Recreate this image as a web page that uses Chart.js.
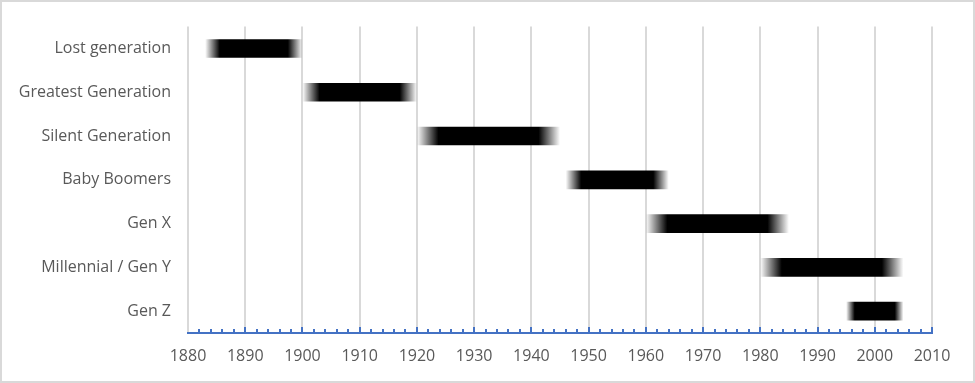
<!DOCTYPE html>
<html>
<head>
<meta charset="utf-8">
<script src="https://cdn.jsdelivr.net/npm/chart.js@4.4.1/dist/chart.umd.min.js"></script>
<style>
  html, body { margin: 0; padding: 0; background: #fff; }
  #wrap { width: 975px; height: 383px; position: relative; }
</style>
</head>
<body>
<div id="wrap"><canvas id="chart"></canvas></div>
<script>
const generations = ['Lost generation', 'Greatest Generation', 'Silent Generation', 'Baby Boomers', 'Gen X', 'Millennial / Gen Y', 'Gen Z'];
const startYears = [1883, 1900, 1920, 1946, 1960, 1980, 1995];
const endYears = [1900, 1920, 1945, 1964, 1985, 2005, 2005];
const yearMin = 1880;
const yearMax = 2010;
const majorStep = 10;
const minorStep = 2;

const textColor = '#595959';
const gridColor = '#d9d9d9';
const axisColor = '#4472c4';
const fontFamily = "'Open Sans', 'Noto Sans', sans-serif";

// gradient that fades the bar in and out at both ends
const fadeFill = (ctx) => {
    const chart = ctx.chart;
    if (!chart.chartArea || ctx.dataIndex === undefined) return '#000';
    const x = chart.scales.x;
    const x0 = x.getPixelForValue(startYears[ctx.dataIndex]);
    const x1 = x.getPixelForValue(endYears[ctx.dataIndex]);
    const g = chart.ctx.createLinearGradient(x0, 0, x1, 0);
    g.addColorStop(0, 'rgba(0,0,0,0)');
    g.addColorStop(0.15, 'rgba(0,0,0,1)');
    g.addColorStop(0.85, 'rgba(0,0,0,1)');
    g.addColorStop(1, 'rgba(0,0,0,0)');
    return g;
};

// blue axis line with small ticks pointing up into the plot
const axisTicks = {
    id: 'axisTicks',
    afterDraw(chart) {
        const { ctx, chartArea, scales } = chart;
        const y = chartArea.bottom;
        ctx.save();
        ctx.strokeStyle = axisColor;
        ctx.lineWidth = 2;
        for (let yr = yearMin + minorStep; yr <= yearMax; yr += minorStep) {
            const px = Math.round(scales.x.getPixelForValue(yr));
            const len = (yr % majorStep === 0) ? 6 : 4;
            ctx.beginPath();
            ctx.moveTo(px, y);
            ctx.lineTo(px, y - len);
            ctx.stroke();
        }
        ctx.beginPath();
        ctx.moveTo(scales.x.left - 1, y);
        ctx.lineTo(scales.x.right + 1, y);
        ctx.stroke();
        ctx.restore();
    }
};

const frame = {
    id: 'frame',
    beforeDraw(chart) {
        const ctx = chart.ctx;
        ctx.save();
        ctx.fillStyle = '#fff';
        ctx.fillRect(0, 0, chart.width, chart.height);
        ctx.strokeStyle = gridColor;
        ctx.lineWidth = 2;
        ctx.strokeRect(1, 1, chart.width - 2, chart.height - 2);
        ctx.restore();
    }
};

const config = {
    type: 'bar',
    data: {
        labels: generations,
        datasets: [{
            data: generations.map((g, i) => [startYears[i], endYears[i]]),
            backgroundColor: fadeFill,
            borderWidth: 0,
            borderSkipped: false,
            barThickness: 18
        }]
    },
    options: {
        indexAxis: 'y',
        responsive: false,
        animation: false,
        layout: { padding: { top: 24, right: 43, bottom: 0, left: 0 } },
        plugins: {
            legend: { display: false },
            tooltip: { enabled: false }
        },
        scales: {
            x: {
                type: 'linear',
                min: yearMin,
                max: yearMax,
                afterFit: (s) => { s.height = 50; },
                border: { display: false },
                grid: { color: gridColor, lineWidth: 2, drawTicks: false },
                ticks: {
                    stepSize: majorStep,
                    padding: 14,
                    color: textColor,
                    font: { family: fontFamily, size: 16 },
                    callback: v => String(v)
                }
            },
            y: {
                afterFit: (s) => { s.width = 188; },
                border: { display: false },
                grid: { display: false, drawTicks: false },
                ticks: {
                    padding: 17,
                    color: textColor,
                    font: { family: fontFamily, size: 16 }
                }
            }
        }
    },
    plugins: [frame, axisTicks]
};

const canvas = document.getElementById('chart');
canvas.width = 975;
canvas.height = 383;
new Chart(canvas, config);
</script>
</body>
</html>
